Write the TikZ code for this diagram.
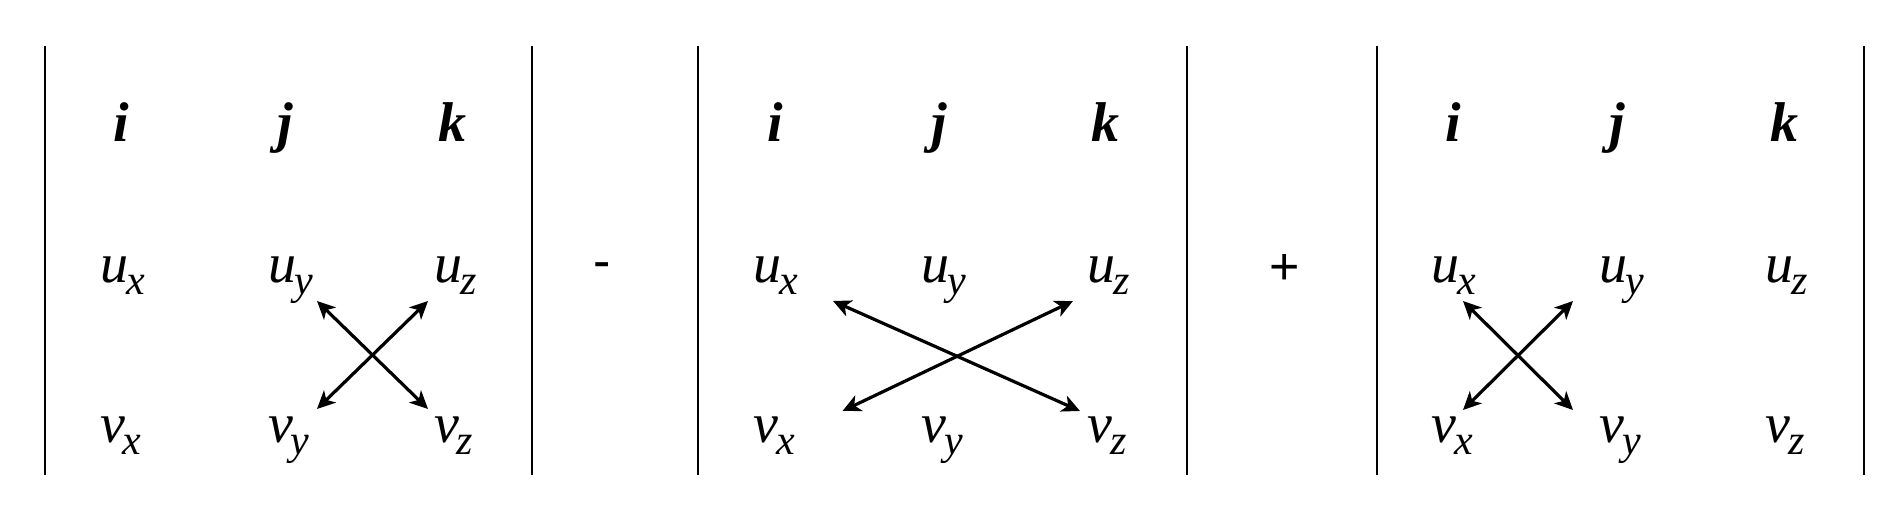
\documentclass[tikz,border=0pt]{standalone}
\usepackage{fontspec}
\setmainfont{Liberation Serif}
\newfontfamily\opfont{Liberation Sans}
\usetikzlibrary{arrows.meta}
\newcommand{\cmp}[2]{#1\kern-1pt\raisebox{-6pt}{\fontsize{21}{21}\selectfont #2}}
\begin{document}
\begin{tikzpicture}[x=0.5pt,y=-0.5pt,
  bar/.style={line width=1pt},
  ent/.style={inner sep=0pt,anchor=base west,font=\fontsize{28}{28}\selectfont\itshape},
  unitv/.style={inner sep=0pt,anchor=base,font=\fontsize{28}{28}\selectfont\bfseries\itshape},
  op/.style={inner sep=0pt,anchor=base,font=\opfont\fontsize{26}{26}\selectfont},
  dbl/.style={line width=1.6pt,{Stealth[length=9pt,width=8.5pt,inset=2.5pt]}-{Stealth[length=9pt,width=8.5pt,inset=2.5pt]}}]
\useasboundingbox (0,0) rectangle (1893,522);
\foreach \n/\L/\R in {1/44.7/532.4, 2/697.8/1186.5, 3/1376.5/1864.3} {
  \draw[bar] (\L,46) -- (\L,475);
  \draw[bar] (\R,46) -- (\R,475);
  \node[unitv] (i\n) at (\L+77,142) {i};
  \node[unitv] (j\n) at (\L+241,142) {j};
  \node[unitv] (k\n) at (\L+408,142) {k};
  \node[ent] (ux\n) at (\L+55,283) {\cmp{u}{x}};
  \node[ent] (uy\n) at (\L+223,283) {\cmp{u}{y}};
  \node[ent] (uz\n) at (\L+389,283) {\cmp{u}{z}};
  \node[ent] (vx\n) at (\L+55,443) {\cmp{v}{x}};
  \node[ent] (vy\n) at (\L+223,443) {\cmp{v}{y}};
  \node[ent] (vz\n) at (\L+389,443) {\cmp{v}{z}};
}
\node[op] (minus) at (602,279) {-};
\node[op] (plus) at (1284.5,285) {+};
% arrow end points
\coordinate (a1s) at (317,301);   \coordinate (a1e) at (428,409);
\coordinate (b1s) at (317,409);   \coordinate (b1e) at (428,301);
\coordinate (a2s) at (833,301);   \coordinate (a2e) at (1080,411);
\coordinate (b2s) at (842.5,411); \coordinate (b2e) at (1073,301);
\coordinate (a3s) at (1463,301);  \coordinate (a3e) at (1573,410);
\coordinate (b3s) at (1463,410);  \coordinate (b3e) at (1573,301);
\draw[dbl] (a1s) -- (a1e);
\draw[dbl] (b1s) -- (b1e);
\draw[dbl] (a2s) -- (a2e);
\draw[dbl] (b2s) -- (b2e);
\draw[dbl] (a3s) -- (a3e);
\draw[dbl] (b3s) -- (b3e);
\end{tikzpicture}
\end{document}
